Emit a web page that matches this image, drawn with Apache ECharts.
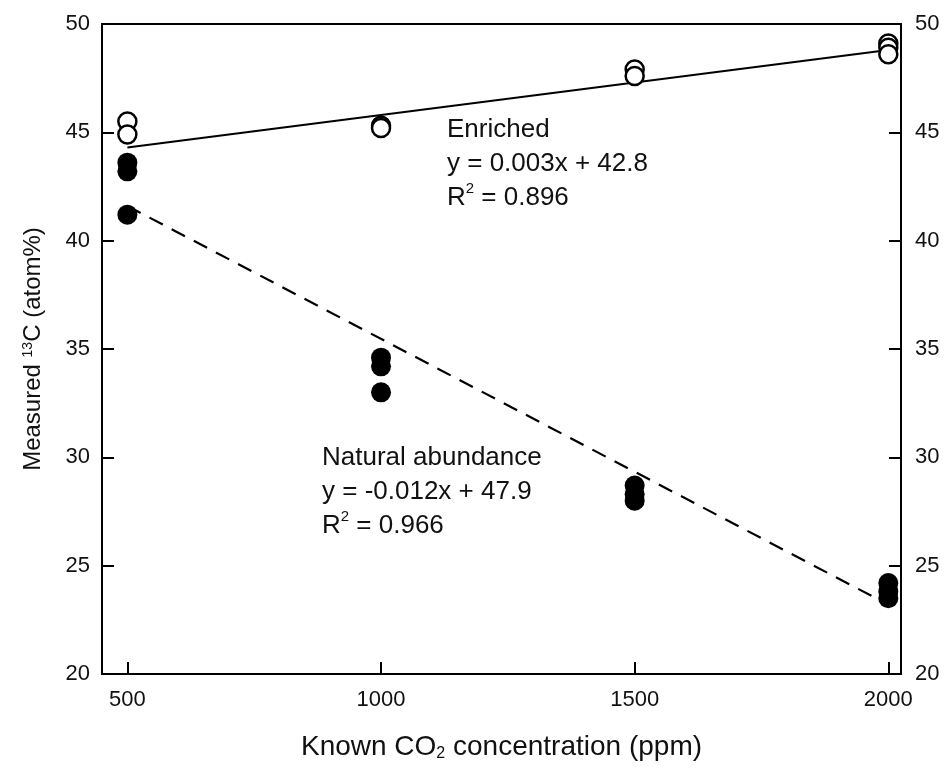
<!DOCTYPE html>
<html><head><meta charset="utf-8">
<script src="https://cdn.jsdelivr.net/npm/echarts@6/dist/echarts.min.js"></script>
<style>html,body{margin:0;padding:0;background:#fff}#c{width:944px;height:767px}</style>
</head><body><div id="c"></div>
<script>
const xTicks = [500, 1000, 1500, 2000];
const yTicks = [20, 25, 30, 35, 40, 45, 50];
const enrichedX = [500, 500, 1000, 1000, 1500, 1500, 2000, 2000, 2000];
const enrichedY = [45.5, 44.9, 45.3, 45.2, 47.9, 47.6, 49.1, 48.9, 48.6];
const naturalX = [500, 500, 500, 1000, 1000, 1000, 1500, 1500, 1500, 2000, 2000, 2000];
const naturalY = [43.6, 43.2, 41.2, 34.6, 34.2, 33.0, 28.7, 28.3, 28.0, 24.2, 23.8, 23.5];
const enrichedFitX = [500, 2000];
const enrichedFitY = [44.3, 48.8];
const naturalFitX = [500, 2000];
const naturalFitY = [41.6, 23.2];

const zip = (a, b) => a.map((v, i) => [v, b[i]]);
const FONT = 'Liberation Sans, Arial, sans-serif';
const chart = echarts.init(document.getElementById('c'), null, {renderer: 'canvas'});
const axisLineStyle = {color: '#000', width: 2};
const tickStyle = {inside: true, length: 12, lineStyle: {color: '#000', width: 2}};
chart.setOption({
  animation: false,
  grid: {left: 102, right: 43, top: 24, bottom: 91},
  xAxis: [{
    type: 'value', min: 450, max: 2025, position: 'bottom',
    splitLine: {show: false},
    axisLine: {lineStyle: axisLineStyle},
    axisTick: Object.assign({customValues: xTicks}, tickStyle),
    axisLabel: {customValues: xTicks, formatter: v => String(v), color: '#111', fontSize: 22, fontFamily: FONT, margin: 15},
    name: 'Known CO{sub|2} concentration (ppm)',
    nameLocation: 'middle', nameGap: 59,
    nameTextStyle: {color: '#111', fontSize: 28, fontFamily: FONT,
      rich: {sub: {fontSize: 16, fontFamily: FONT, color: '#111', verticalAlign: 'top', padding: [13, 0, 0, 0]}}}
  }, {
    type: 'value', min: 450, max: 2025, position: 'top',
    splitLine: {show: false},
    axisLine: {lineStyle: axisLineStyle},
    axisTick: {show: false}, axisLabel: {show: false}
  }],
  yAxis: [{
    type: 'value', min: yTicks[0], max: yTicks[yTicks.length - 1], interval: 5, position: 'left',
    splitLine: {show: false},
    axisLine: {lineStyle: axisLineStyle},
    axisTick: tickStyle,
    axisLabel: {color: '#111', fontSize: 22, fontFamily: FONT, margin: 12},
    name: 'Measured {sup|13}C (atom%)',
    nameLocation: 'middle', nameGap: 57, nameRotate: 90,
    nameTextStyle: {color: '#111', fontSize: 24, fontFamily: FONT,
      rich: {sup: {fontSize: 14, fontFamily: FONT, color: '#111', verticalAlign: 'top'}}}
  }, {
    type: 'value', min: yTicks[0], max: yTicks[yTicks.length - 1], interval: 5, position: 'right',
    splitLine: {show: false},
    axisLine: {lineStyle: axisLineStyle},
    axisTick: tickStyle,
    axisLabel: {color: '#111', fontSize: 22, fontFamily: FONT, margin: 14}
  }],
  series: [
    {type: 'line', data: zip(enrichedFitX, enrichedFitY), symbol: 'none',
      lineStyle: {color: '#000', width: 2.2}, z: 2},
    {type: 'line', data: zip(naturalFitX, naturalFitY), symbol: 'none',
      lineStyle: {color: '#000', width: 2.2, type: [15, 10]}, z: 2},
    {type: 'scatter', data: zip(enrichedX, enrichedY), symbol: 'circle', symbolSize: 18,
      itemStyle: {color: '#fff', borderColor: '#000', borderWidth: 2.5, opacity: 1}, z: 3},
    {type: 'scatter', data: zip(naturalX, naturalY), symbol: 'circle', symbolSize: 20,
      itemStyle: {color: '#000', borderColor: '#000', borderWidth: 0, opacity: 1}, z: 3}
  ],
  graphic: [
    {type: 'text', left: 447, top: 113, style: {
      text: 'Enriched\ny = 0.003x + 42.8\nR{sup|2} = 0.896',
      font: '26px ' + FONT, fill: '#111', lineHeight: 34,
      rich: {sup: {fontSize: 15, fontFamily: FONT, fill: '#111', verticalAlign: 'top'}}}},
    {type: 'text', left: 322, top: 441, style: {
      text: 'Natural abundance\ny = -0.012x + 47.9\nR{sup|2} = 0.966',
      font: '26px ' + FONT, fill: '#111', lineHeight: 34,
      rich: {sup: {fontSize: 15, fontFamily: FONT, fill: '#111', verticalAlign: 'top'}}}}
  ]
});
</script></body></html>
